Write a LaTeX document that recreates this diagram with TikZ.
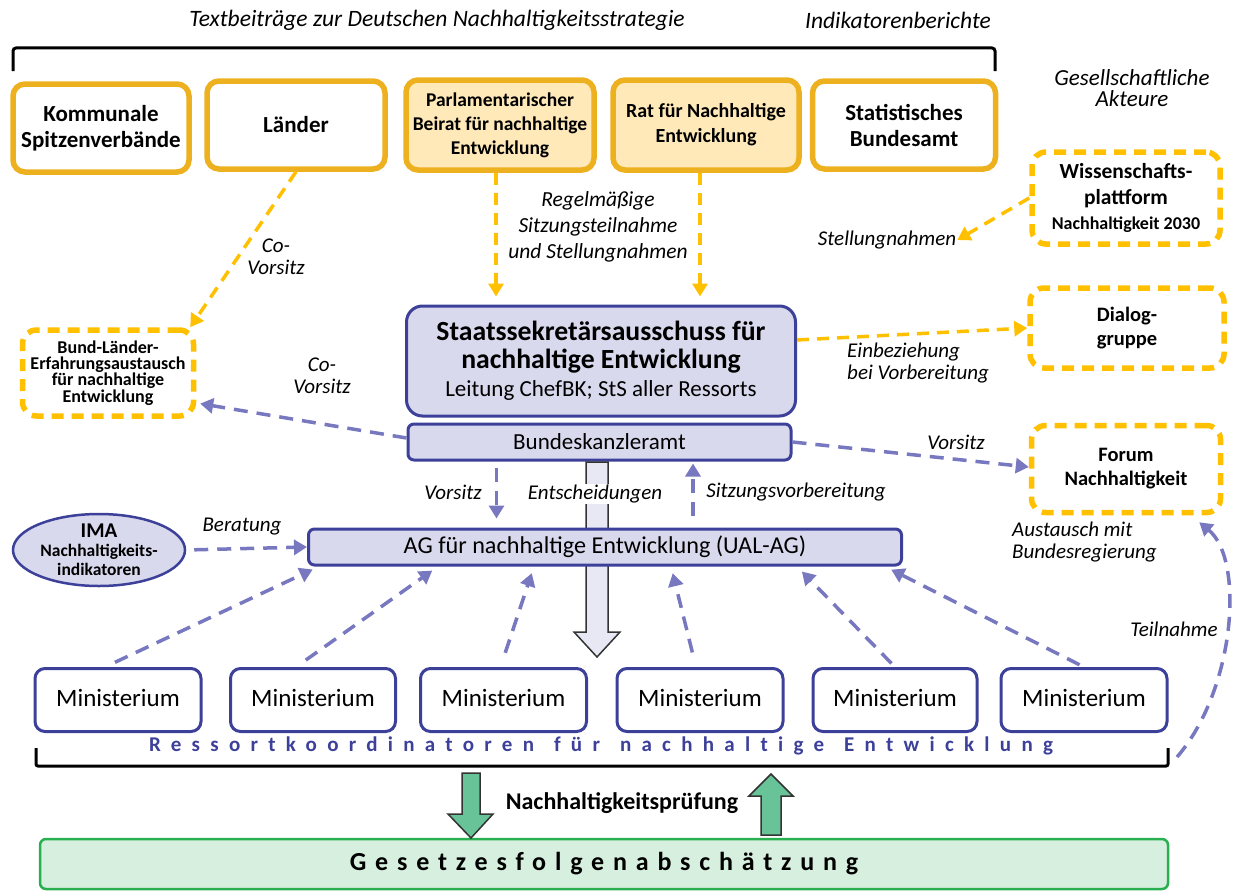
\documentclass[tikz,border=0pt]{standalone}
\usepackage{fontspec}
\setmainfont{Carlito}
\usetikzlibrary{arrows.meta,positioning,shapes.geometric}
\definecolor{gold}{RGB}{237,177,32}
\definecolor{amber}{RGB}{255,192,0}
\definecolor{cream}{RGB}{255,233,185}
\definecolor{navy}{RGB}{60,64,153}
\definecolor{lav}{RGB}{217,217,238}
\definecolor{lavarrow}{RGB}{120,120,192}
\definecolor{mint}{RGB}{104,196,152}
\definecolor{leaf}{RGB}{40,176,80}
\definecolor{leafpale}{RGB}{214,239,222}
\newcommand{\fsz}[2]{\fontsize{#1}{#2}\selectfont\lineskiplimit=-30pt}

\begin{document}
\begin{tikzpicture}[x=1pt,y=-1pt,
  wh/.style 2 args={minimum width=#1pt,minimum height=#2pt},
  gremium/.style={draw=gold,line width=5.5pt,rounded corners=12pt,fill=white,align=center,inner sep=0pt,font=\bfseries\fsz{23}{26}},
  akteur/.style={draw=amber,line width=5.5pt,dash pattern=on 12pt off 8pt,rounded corners=14pt,fill=white,align=center,inner sep=0pt,font=\bfseries\fsz{20.5}{24}},
  ressort/.style={draw=navy,line width=3pt,rounded corners=10pt,fill=white,font=\fsz{25}{30}},
  zentrale/.style={draw=navy,line width=3pt,rounded corners=6pt,fill=lav,align=center,font=\fsz{23}{28}},
  lbl/.style={font=\itshape\fsz{21}{22},align=center,inner sep=1pt},
  gelb/.style={draw=amber,line width=3.5pt,dash pattern=on 12pt off 8pt,-{Triangle[length=13pt,width=15pt]}},
  blau/.style={draw=lavarrow,line width=3.5pt,dash pattern=on 14pt off 9pt,-{Triangle[length=13pt,width=15pt]}},
  pfeilblock/.style={draw=black!80,line width=1.5pt,line join=miter}]

\useasboundingbox (0,0) rectangle (1233,891);

\node[lbl,font=\itshape\fsz{23.5}{25}] (tb) at (437,20) {Textbeiträge zur Deutschen Nachhaltigkeitsstrategie};
\node[lbl,font=\itshape\fsz{23.5}{25}] (ib) at (898,20) {Indikatorenberichte};
\draw[line width=3pt,rounded corners=3pt] (13,71) -- (13,48) -- (995,48) -- (995,71);

\node[gremium,wh={176}{88}] (kom) at (101,128) {Kommunale\\Spitzenverbände};
\node[gremium,wh={178}{88}] (laender) at (296,125) {Länder};
\node[gremium,wh={188}{90},fill=cream,font=\bfseries\fsz{19.5}{24}] (parl) at (500,125) {Parlamentarischer\\Beirat für nachhaltige\\Entwicklung};
\node[gremium,wh={186}{90},fill=cream,font=\bfseries\fsz{20}{25}] (rat) at (706,125) {Rat für Nachhaltige\\Entwicklung};
\node[gremium,wh={183}{88}] (stat) at (904,125) {Statistisches\\Bundesamt};

\node[lbl,font=\itshape\fsz{23}{21}] (ga) at (1132,88) {Gesellschaftliche\\Akteure};
\node[akteur,wh={188}{92},font=\bfseries\fsz{21.5}{25.5}] (wiss) at (1126,198) {Wissenschafts-\\plattform\\{\fsz{18}{25.5}Nachhaltigkeit 2030}};
\node[akteur,wh={194}{80}] (dialog) at (1127,328) {Dialog-\\gruppe};
\node[akteur,wh={189}{87}] (forum) at (1126,469) {Forum\\Nachhaltigkeit};
\node[akteur,wh={171}{86},font=\bfseries\fsz{18}{16.4}] (blx) at (108,373) {Bund-Länder-\\Erfahrungsaustausch\\für nachhaltige\\Entwicklung};

\node[zentrale,wh={389}{110},rounded corners=16pt] (ssa) at (601,361) {{\bfseries\fsz{27.7}{30}Staatssekretärsausschuss für}\\{\bfseries\fsz{27.7}{30}nachhaltige Entwicklung}\\{\fsz{23}{31}Leitung ChefBK; StS aller Ressorts}};
\node[zentrale,wh={383}{36}] (bka) at (599.5,442) {Bundeskanzleramt};
\draw[pfeilblock,fill=lav!60] (586,462) -- (608,462) -- (608,632) -- (620,632) -- (597,657) -- (574,632) -- (586,632) -- cycle;
\node[zentrale,wh={593}{36},font=\fsz{24.2}{28}] (ag) at (605,547) {AG für nachhaltige Entwicklung (UAL-AG)};
\node[ellipse,draw=navy,line width=2.5pt,fill=lav,wh={172}{72}] (ima) at (99,550) {};
\node[align=center,font=\bfseries\fsz{17.5}{19}] (imatext) at (ima) {{\fsz{21}{19}IMA}\\Nachhaltigkeits-\\indikatoren};

\foreach \i/\x/\w in {1/118/166,2/313/165,3/503.5/166,4/700/166,5/895/164,6/1084/166}
  \node[ressort,wh={\w}{63},text depth=5pt] (min\i) at (\x,700) {Ministerium};
\node[font=\bfseries\fsz{21}{25},text=navy] (rk) at (601,746) {\addfontfeature{LetterSpace=49,Ligatures=NoCommon}Ressortkoordinatoren\hspace{20pt}für\hspace{20pt}nachhaltige\hspace{20pt}Entwicklung};
\draw[line width=3pt,rounded corners=2pt] (36,748) -- (36,766) -- (1168,766) -- (1168,748);
\coordinate (tn) at (1177,757);

\node[draw=leaf,line width=2.5pt,rounded corners=6pt,fill=leafpale,wh={1128}{50},font=\bfseries\fsz{26}{30}] (gfa) at (604,864) {\addfontfeature{LetterSpace=34}Gesetzesfolgenabschätzung};
\node[font=\bfseries\fsz{24}{26}] (nhp) at (622,803) {Nachhaltigkeitsprüfung};
\draw[pfeilblock,fill=mint] (462,773) -- (480,773) -- (480,814) -- (493,814) -- (471,838) -- (448,814) -- (462,814) -- cycle;
\draw[pfeilblock,fill=mint] (761,835) -- (781,835) -- (781,796) -- (793,796) -- (771,774) -- (749,796) -- (761,796) -- cycle;

\node[lbl] (stl) at (887,240) {Stellungnahmen};
\node[lbl,font=\itshape\fsz{21.5}{26}] (rg) at (598,227) {Regelmäßige\\Sitzungsteilnahme\\und Stellungnahmen};
\node[lbl] (co1) at (276,257) {Co-\\Vorsitz};
\node[lbl] (co2) at (322,376) {Co-\\Vorsitz};
\node[lbl,anchor=west,align=left] (ebz) at (846,363) {Einbeziehung\\bei Vorbereitung};
\node[lbl] (vfo) at (956,442) {Vorsitz};
\node[lbl,anchor=west,align=left] (aus) at (1011,542) {Austausch mit\\Bundesregierung};
\node[lbl] (tln) at (1174,629) {Teilnahme};
\node[lbl] (vag) at (453,492) {Vorsitz};
\node[lbl] (szv) at (796,492) {Sitzungsvorbereitung};
\node[lbl] (ber) at (242,527) {Beratung};
\node[lbl,fill=white] (ents) at (595,494) {Entscheidungen};

\draw[gelb] (laender.south) -- ([xshift=-6pt]blx.north east);
\draw[gelb,shorten >=8pt] ([xshift=-4pt]parl.south) -- ([xshift=-4pt]parl.south |- ssa.north);
\draw[gelb,shorten >=8pt] ([xshift=-6pt]rat.south) -- ([xshift=-6pt]rat.south |- ssa.north);
\draw[gelb] (wiss.west) -- (stl.east);
\draw[gelb] ([yshift=21pt]ssa.east) -- (dialog.west);
\draw[blau] (bka.east) -- ([yshift=2pt]forum.west);
\draw[blau,shorten >=4pt] ([yshift=4pt]bka.west) -- ([yshift=-30pt]blx.east);
\draw[blau,shorten <=6pt,shorten >=9pt] ([xshift=-103pt]bka.south) -- ([xshift=-103pt]bka.south |- ag.north);
\draw[blau,shorten <=12pt,shorten >=2pt] ([xshift=88pt]ag.north) -- ([xshift=88pt]ag.north |- bka.south);
\draw[blau,shorten <=8pt] (ima.east) -- (ag.west);
\foreach \m/\a/\b/\s in {1/-13/-286/11,2/-17/-167/12,3/-3/-71/15,4/-4/66/15,5/0/192/5,6/0/280/5}
  \draw[blau,shorten <=\s pt,shorten >=7pt] ([xshift=\a pt]min\m.north) -- ([xshift=\b pt]ag.south);
\draw[blau] (tn) .. controls (1235,690) and (1245,560) .. ([xshift=-24pt,yshift=-7pt]forum.south east);
\end{tikzpicture}
\end{document}
